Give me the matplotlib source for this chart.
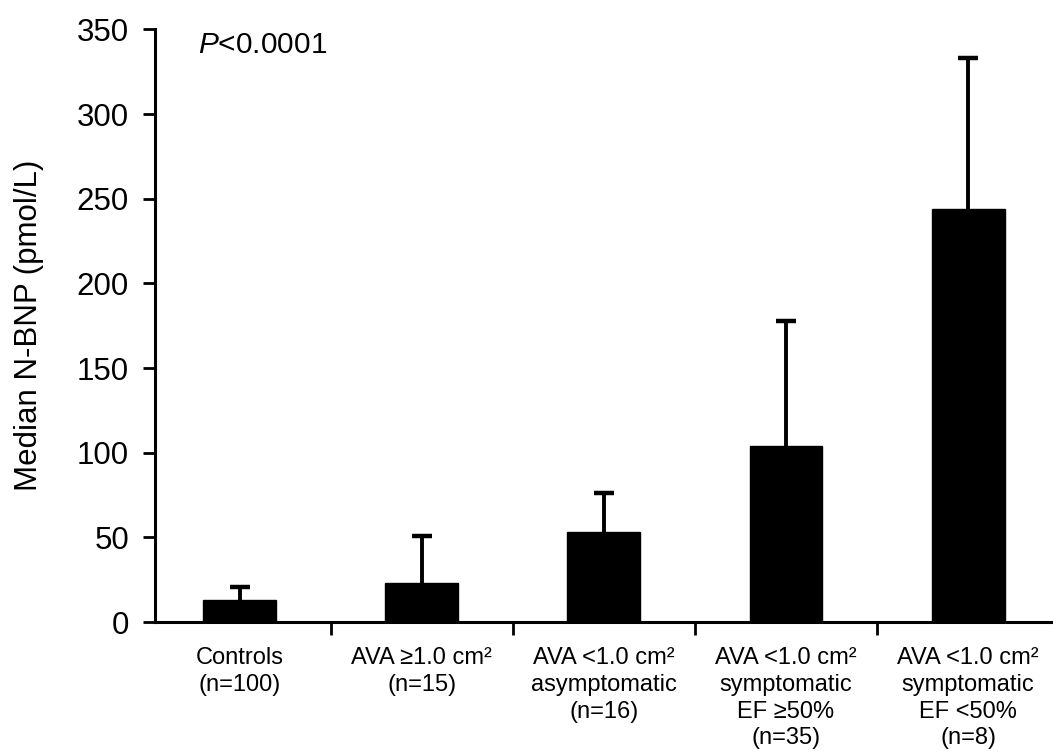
from __future__ import annotations

import matplotlib

matplotlib.use("Agg")

import matplotlib.pyplot as plt
import numpy as np

# Groups along the x axis.
group_labels = [
    "Controls\n(n=100)",
    "AVA \u22651.0 cm\u00b2\n(n=15)",
    "AVA <1.0 cm\u00b2\nasymptomatic\n(n=16)",
    "AVA <1.0 cm\u00b2\nsymptomatic\nEF \u226550%\n(n=35)",
    "AVA <1.0 cm\u00b2\nsymptomatic\nEF <50%\n(n=8)",
]

# Median N-BNP (pmol/L) and the top of each error bar.
median_nbnp = [13, 23, 53, 104, 244]
upper_nbnp = [21, 51, 76, 178, 333]

y_ticks = [0, 50, 100, 150, 200, 250, 300, 350]
p_value_text = "$P$<0.0001"


def main() -> None:
    plt.rcParams["font.family"] = ["Liberation Sans", "DejaVu Sans"]
    plt.rcParams["mathtext.fontset"] = "custom"
    plt.rcParams["mathtext.rm"] = "Liberation Sans"
    plt.rcParams["mathtext.it"] = "Liberation Sans:italic"

    positions = np.arange(len(group_labels))
    medians = np.array(median_nbnp, dtype=float)
    uppers = np.array(upper_nbnp, dtype=float)

    # Only the upper half of the error bar is drawn.
    error = np.vstack([np.zeros_like(medians), uppers - medians])

    fig = plt.figure(figsize=(10.53, 7.55), dpi=100)
    ax = fig.add_axes([0.147, 0.176, 0.853, 0.785])

    ax.bar(
        positions,
        medians,
        width=0.4,
        color="black",
        edgecolor="black",
        zorder=2,
    )

    _, caplines, _ = ax.errorbar(
        positions,
        medians,
        yerr=error,
        fmt="none",
        ecolor="black",
        elinewidth=2.8,
        capsize=7,
        capthick=3.2,
        zorder=3,
    )
    # Hide the lower cap sitting on top of each bar.
    caplines[0].set_visible(False)

    ax.set_xlim(-0.466, 4.466)
    ax.set_ylim(0, 350)
    ax.set_yticks(y_ticks)

    ax.set_xticks(positions)
    ax.set_xticklabels(group_labels, fontsize=17, linespacing=1.28)
    ax.set_xticks(positions[:-1] + 0.5, minor=True)

    ax.tick_params(axis="x", which="major", length=0, pad=18)
    ax.tick_params(
        axis="x", which="minor", length=9, width=2, direction="out"
    )
    ax.tick_params(
        axis="y", length=8.5, width=2, direction="out",
        labelsize=22.5, pad=10,
    )

    ax.set_ylabel("Median N-BNP (pmol/L)", fontsize=22.5, labelpad=24)

    for side in ("top", "right"):
        ax.spines[side].set_visible(False)
    for side in ("left", "bottom"):
        ax.spines[side].set_linewidth(2.2)

    ax.text(-0.23, 336, p_value_text, fontsize=21.5, va="baseline")

    fig.savefig("out.png", dpi=100)
    plt.close(fig)


if __name__ == "__main__":
    main()
